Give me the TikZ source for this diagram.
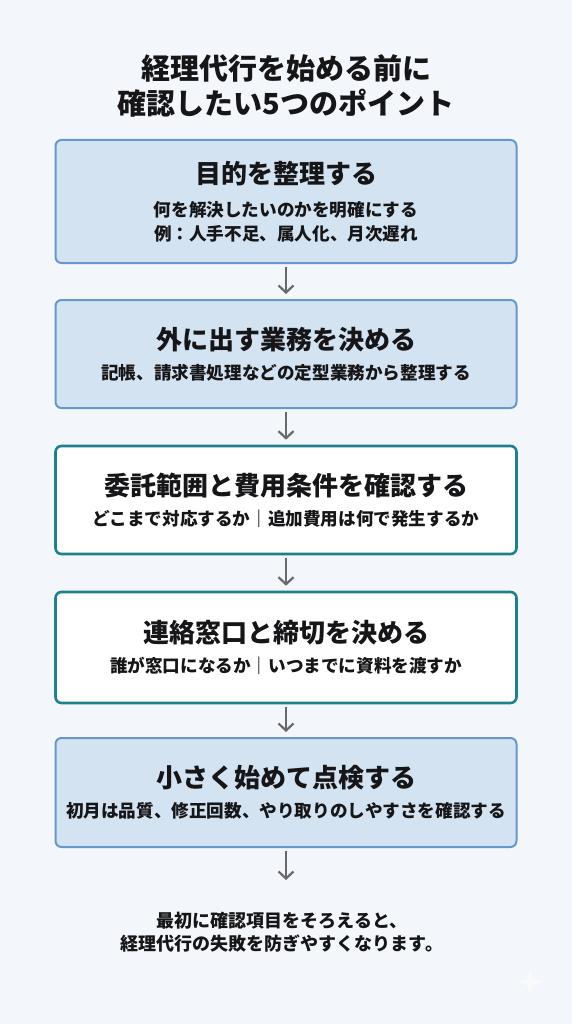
\documentclass[tikz,border=0pt]{standalone}
\usepackage{fontspec}
\setmainfont{Noto Sans CJK JP}
\usetikzlibrary{arrows.meta,positioning}
\definecolor{bgPaper}{RGB}{243,246,250}
\definecolor{boxBlue}{RGB}{212,227,241}
\definecolor{lineBlue}{RGB}{104,152,203}
\definecolor{lineTeal}{RGB}{30,128,140}
\definecolor{arrowGray}{RGB}{105,105,108}
\definecolor{inkDark}{RGB}{22,22,24}
\tikzset{
  stepbox/.style={rounded corners=6pt, line width=2pt, minimum width=461pt,
    align=center, text=inkDark, inner sep=0pt},
  stepblue/.style={stepbox, draw=lineBlue, fill=boxBlue},
  stepteal/.style={stepbox, draw=lineTeal, line width=2.6pt, fill=white},
  flowln/.style={-{Straight Barb[length=7pt,width=15pt]}, line width=2.2pt,
    arrowGray, shorten <=3pt, shorten >=5pt},
}
\newcommand{\bigtitle}{\fontsize{29}{33}\selectfont\bfseries}
\newcommand{\steptitle}{\fontsize{26}{30}\selectfont\bfseries}
\newcommand{\stepsub}{\fontsize{17.6}{22}\selectfont\bfseries}
\newcommand{\notefont}{\fontsize{18}{22}\selectfont\bfseries}

\begin{document}
\begin{tikzpicture}[x=1pt,y=-1pt]
  % page
  \fill[bgPaper] (0,0) rectangle (572,1024);
  \useasboundingbox (0,0) rectangle (572,1024);
  % heading
  \node[align=center, text=inkDark] (head) at (286,86)
    {\bigtitle 経理代行を始める前に\\[5pt] \bigtitle 確認したい5つのポイント};
  % the five steps
  \node[stepblue, minimum height=123pt] (goal) at (286,201.5)
    {\steptitle 目的を整理する\\[14pt]
     \stepsub 何を解決したいのかを明確にする\\[6pt]
     \stepsub 例：人手不足、属人化、月次遅れ};
  \node[stepblue, minimum height=108pt] (scope) at (286,354)
    {\steptitle 外に出す業務を決める\\[11pt]
     \stepsub 記帳、請求書処理などの定型業務から整理する};
  \node[stepteal, minimum height=108pt] (cost) at (286,500)
    {\steptitle 委託範囲と費用条件を確認する\\[11pt]
     \stepsub どこまで対応するか｜追加費用は何で発生するか};
  \node[stepteal, minimum height=111pt] (contact) at (286,647.5)
    {\steptitle 連絡窓口と締切を決める\\[11pt]
     \stepsub 誰が窓口になるか｜いつまでに資料を渡すか};
  \node[stepblue, minimum height=109pt] (check) at (286,792.5)
    {\steptitle 小さく始めて点検する\\[11pt]
     \stepsub 初月は品質、修正回数、やり取りのしやすさを確認する};
  % arrows
  \coordinate (tail) at (286,885);
  \draw[flowln] (goal) -- (scope);
  \draw[flowln] (scope) -- (cost);
  \draw[flowln] (cost) -- (contact);
  \draw[flowln] (contact) -- (check);
  \draw[flowln] (check) -- (tail);
  % closing note
  \node[align=center, text=inkDark] (note) at (282,932)
    {\notefont 最初に確認項目をそろえると、\\[5pt] \notefont 経理代行の失敗を防ぎやすくなります。};
  % faint sparkle mark
  \fill[white, opacity=0.45] (530,967) .. controls (532,980) .. (545,982)
    .. controls (532,984) .. (530,997) .. controls (528,984) .. (515,982)
    .. controls (528,980) .. cycle;
\end{tikzpicture}
\end{document}
